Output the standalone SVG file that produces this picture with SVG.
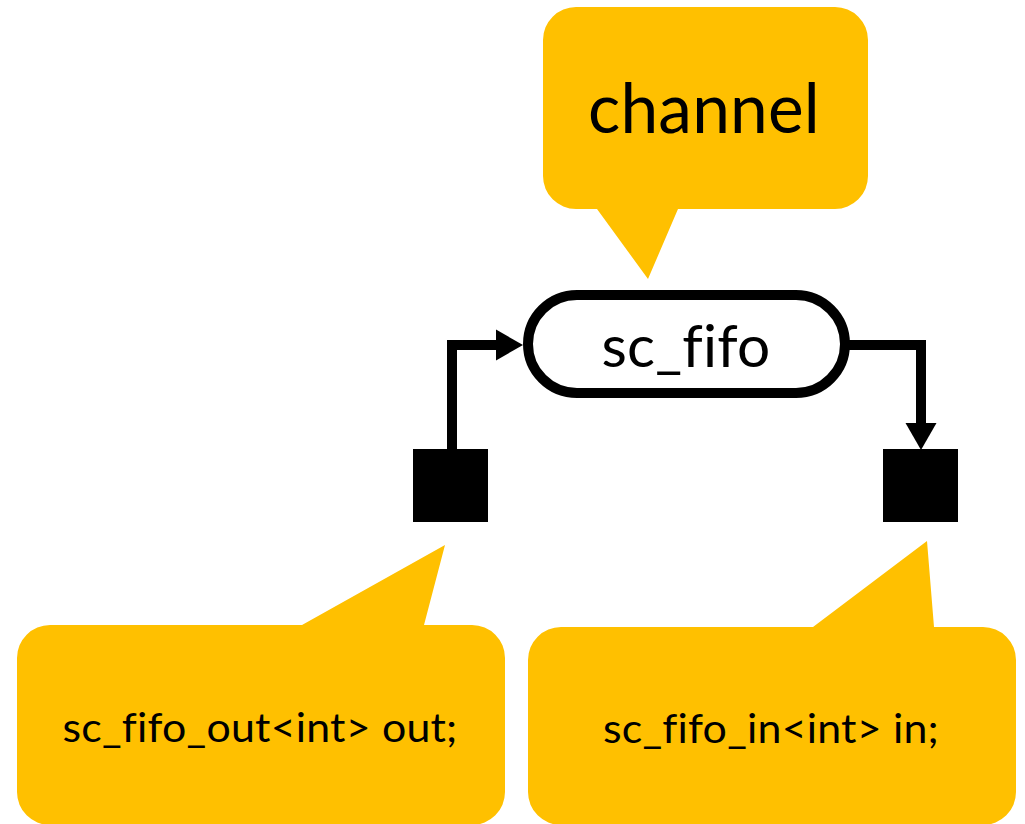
<svg xmlns="http://www.w3.org/2000/svg" width="1025" height="824" viewBox="0 0 1025 824">
<style>
.callout{fill:#FFC000}
.lbl{font-family:Lato,"Noto Sans","Liberation Sans",sans-serif;fill:#000;text-anchor:middle;font-variant-ligatures:none;font-feature-settings:"liga" 0;letter-spacing:0.2px}
.port{fill:#000}
.wire{fill:none;stroke:#000;stroke-width:10;stroke-linejoin:miter}
</style>
<defs>
<marker id="arr" markerUnits="userSpaceOnUse" markerWidth="28" markerHeight="32" refX="0" refY="15.5" orient="auto" viewBox="0 0 28 31">
<path d="M0,0 L27,15.5 L0,31 z" fill="#000"/>
</marker>
</defs>
<rect width="1025" height="824" fill="#fff"/>
<g id="callout-channel">
<path class="callout" d="M576,7 H835 A33,33 0 0 1 868,40 V176 A33,33 0 0 1 835,209 H678 L648,279 L597,209 H576 A33,33 0 0 1 543,176 V40 A33,33 0 0 1 576,7 Z"/>
<text class="lbl" x="704" y="133" font-size="70" textLength="232" lengthAdjust="spacingAndGlyphs">channel</text>
</g>
<g id="callout-out">
<path class="callout" d="M50,625 H302 L445,545 L424,625 H472 A33,33 0 0 1 505,658 V792 A33,33 0 0 1 472,825 H50 A33,33 0 0 1 17,792 V658 A33,33 0 0 1 50,625 Z"/>
<text class="lbl" x="260" y="742" font-size="41" textLength="395" lengthAdjust="spacingAndGlyphs">sc_fifo_out&lt;int&gt; out;</text>
</g>
<g id="callout-in">
<path class="callout" d="M561,627 H813 L927,541 L934,627 H983 A33,33 0 0 1 1016,660 V792 A33,33 0 0 1 983,825 H561 A33,33 0 0 1 528,792 V660 A33,33 0 0 1 561,627 Z"/>
<text class="lbl" x="771" y="743" font-size="41" textLength="336" lengthAdjust="spacingAndGlyphs">sc_fifo_in&lt;int&gt; in;</text>
</g>
<g id="connectors">
<path class="wire" d="M452,449 V345 H496" marker-end="url(#arr)"/>
<path class="wire" d="M845,345 H921 V423" marker-end="url(#arr)"/>
</g>
<g id="node-sc_fifo">
<rect x="528" y="295" width="317" height="98" rx="49" ry="49" fill="#fff" stroke="#000" stroke-width="10"/>
<text class="lbl" x="686" y="367" font-size="58" textLength="169" lengthAdjust="spacingAndGlyphs">sc_fifo</text>
</g>
<g id="port-out">
<rect class="port" x="413" y="449" width="75" height="73"/>
</g>
<g id="port-in">
<rect class="port" x="883" y="449" width="75" height="73"/>
</g>
</svg>
